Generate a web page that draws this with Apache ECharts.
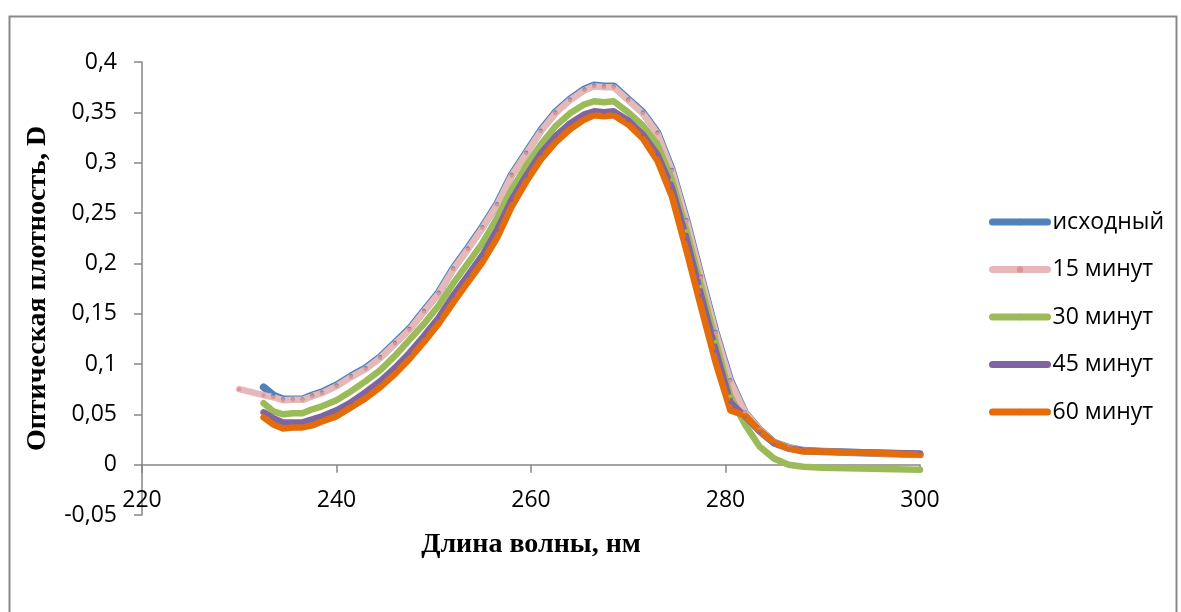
<!DOCTYPE html>
<html>
<head>
<meta charset="utf-8">
<script src="https://cdn.jsdelivr.net/npm/echarts@6/dist/echarts.min.js"></script>
<style>html,body{margin:0;padding:0;background:#fff}#c{width:1181px;height:612px}</style>
</head>
<body>
<div id="c"></div>
<script>
const wavelengths = [230, 232.5, 233.5, 234.5, 235.5, 236.5, 237.5, 238.5, 240, 241.5, 243, 244.5, 246, 247.5, 249, 250.5, 252, 253.5, 255, 256.5, 258, 259.5, 261, 262.5, 264, 265.5, 266.5, 267.5, 268.5, 270, 271.5, 273, 274.5, 276, 277.5, 279, 280.5, 282, 283.5, 285, 286.5, 288, 290, 300];

const ishodny = [null, 0.077, 0.069, 0.065, 0.065, 0.065, 0.069, 0.072, 0.079, 0.088, 0.096, 0.107, 0.121, 0.135, 0.153, 0.171, 0.195, 0.215, 0.236, 0.259, 0.288, 0.310, 0.332, 0.350, 0.363, 0.373, 0.377, 0.376, 0.376, 0.363, 0.350, 0.330, 0.293, 0.243, 0.187, 0.132, 0.084, 0.052, 0.035, 0.022, 0.017, 0.014, 0.013, 0.010];
const min15 = [0.075, 0.069, 0.067, 0.064, 0.0645, 0.0645, 0.068, 0.071, 0.078, 0.087, 0.095, 0.106, 0.120, 0.134, 0.152, 0.170, 0.194, 0.214, 0.235, 0.258, 0.287, 0.309, 0.331, 0.349, 0.362, 0.372, 0.376, 0.375, 0.375, 0.362, 0.349, 0.329, 0.292, 0.242, 0.186, 0.131, 0.083, 0.052, 0.035, 0.022, 0.017, 0.014, 0.013, 0.010];
const min30 = [null, 0.061, 0.053, 0.050, 0.051, 0.051, 0.055, 0.058, 0.064, 0.073, 0.083, 0.094, 0.108, 0.124, 0.140, 0.158, 0.180, 0.200, 0.220, 0.245, 0.273, 0.297, 0.318, 0.336, 0.349, 0.358, 0.361, 0.360, 0.361, 0.350, 0.337, 0.318, 0.283, 0.232, 0.177, 0.122, 0.068, 0.040, 0.018, 0.006, 0.000, -0.002, -0.003, -0.005];
const min45 = [null, 0.052, 0.046, 0.042, 0.042, 0.042, 0.045, 0.048, 0.054, 0.062, 0.072, 0.083, 0.096, 0.111, 0.128, 0.146, 0.168, 0.188, 0.208, 0.233, 0.263, 0.287, 0.309, 0.326, 0.339, 0.348, 0.351, 0.350, 0.351, 0.342, 0.328, 0.308, 0.275, 0.224, 0.168, 0.113, 0.062, 0.048, 0.033, 0.021, 0.016, 0.014, 0.013, 0.011];
const min60 = [null, 0.047, 0.040, 0.036, 0.037, 0.037, 0.039, 0.043, 0.048, 0.057, 0.066, 0.077, 0.090, 0.105, 0.122, 0.140, 0.161, 0.181, 0.201, 0.225, 0.256, 0.281, 0.303, 0.320, 0.333, 0.343, 0.347, 0.346, 0.347, 0.338, 0.324, 0.302, 0.266, 0.212, 0.156, 0.101, 0.054, 0.049, 0.034, 0.022, 0.016, 0.013, 0.013, 0.010];

const seriesNames = ['исходный', '15 минут', '30 минут', '45 минут', '60 минут'];
const seriesValues = [ishodny, min15, min30, min45, min60];
const lineColors = ['#4F81BD', '#E6B9B8', '#9BBB59', '#8064A2', '#E46C0A'];
const markerColors = ['#4F81BD', '#D99694', '#9BBB59', '#8064A2', '#E46C0A'];
const lineWidths = [7.5, 6.5, 6.5, 6.5, 6.5];

const xTitle = 'Длина волны, нм';
const yTitle = 'Оптическая плотность, D';

const X_MIN = 220, X_MAX = 300, X_STEP = 20;
const Y_MIN = -0.05, Y_MAX = 0.4, Y_STEP = 0.05;

function pairs(vals) {
  const out = [];
  vals.forEach((v, i) => { if (v !== null) out.push([wavelengths[i], v]); });
  return out;
}

const GRID = { left: 142, top: 62, width: 778, height: 453 };
// x axis crosses the y axis at zero (moved up from the grid bottom)
const zeroOffset = -GRID.height * (0 - Y_MIN) / (Y_MAX - Y_MIN);

const chart = echarts.init(document.getElementById('c'));
const sansFont = 'Open Sans';
chart.setOption({
  animation: false,
  backgroundColor: '#ffffff',
  graphic: [{
    type: 'rect', left: 7, top: 14, z: -1,
    shape: { width: 1167, height: 620 },
    style: { fill: 'none', stroke: '#898989', lineWidth: 2 }
  }],
  grid: Object.assign({ containLabel: false }, GRID),
  xAxis: {
    type: 'value', min: X_MIN, max: X_MAX, interval: X_STEP,
    offset: zeroOffset,
    axisLine: { onZero: false, lineStyle: { color: '#868686', width: 1.5 } },
    axisTick: { show: true, inside: false, length: 8, lineStyle: { color: '#868686', width: 1.5 } },
    axisLabel: { margin: 24, color: '#000', fontFamily: sansFont, fontSize: 23 },
    splitLine: { show: false },
    name: xTitle, nameLocation: 'middle', nameGap: 66,
    nameTextStyle: { fontFamily: 'Liberation Serif', fontWeight: 'bold', fontSize: 28, color: '#000' }
  },
  yAxis: {
    type: 'value', min: Y_MIN, max: Y_MAX, interval: Y_STEP,
    axisLine: { show: true, onZero: false, lineStyle: { color: '#868686', width: 1.5 } },
    axisTick: { show: true, inside: false, length: 8, lineStyle: { color: '#868686', width: 1.5 } },
    axisLabel: { margin: 25, color: '#000', fontFamily: sansFont, fontSize: 23,
      formatter: v => String(Math.round(v * 100) / 100).replace('.', ',') },
    splitLine: { show: false },
    name: yTitle, nameLocation: 'middle', nameGap: 90,
    nameTextStyle: { fontFamily: 'Liberation Serif', fontWeight: 'bold', fontSize: 28, color: '#000' }
  },
  legend: {
    orient: 'vertical', left: 989, top: 210, padding: 0,
    itemWidth: 55, itemHeight: 8, itemGap: 23.5,
    lineStyle: { width: 7, cap: 'round' },
    textStyle: { fontFamily: sansFont, fontSize: 23, color: '#000', lineHeight: 24 },
    data: seriesNames
  },
  series: seriesNames.map((name, i) => ({
    name: name, type: 'line',
    data: pairs(seriesValues[i]),
    symbol: 'circle', symbolSize: 4, showSymbol: true,
    itemStyle: { color: markerColors[i] },
    lineStyle: { color: lineColors[i], width: lineWidths[i], cap: 'round', join: 'round' },
    emphasis: { disabled: true }
  }))
});
</script>
</body>
</html>
